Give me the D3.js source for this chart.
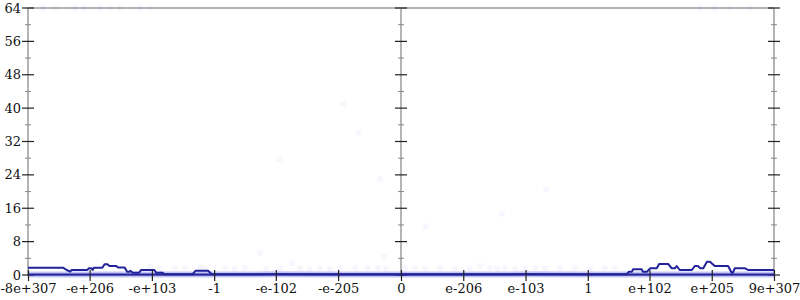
<!DOCTYPE html>
<html>
<head>
<meta charset="utf-8">
<title>symlog histogram</title>
<script src="https://cdn.jsdelivr.net/npm/d3@7"></script>
<style>
body { margin: 0; background: #fff; }
svg text { font-family: "DejaVu Serif", serif; font-size: 13px; fill: #111; }
</style>
</head>
<body>
<script>
// x tick values and their labels
var xTickVals = [-8e307, -1e206, -1e103, -1, -1e-102, -1e-205, 0, 1e-206, 1e-103, 1, 1e102, 1e205, 9e307];
var xTickLabels = ["-8e+307", "-e+206", "-e+103", "-1", "-e-102", "-e-205", "0", "e-206", "e-103", "1", "e+102", "e+205", "9e+307"];
var yTicks = [0, 8, 16, 24, 32, 40, 48, 56, 64];
var yMinor = [4, 12, 20, 28, 36, 44, 52, 60];

// main jagged series
var upperX = [-8e307, -1e250, -1e244, -1e238, -1e236, -1e210, -1e207, -1e203, -1e201, -1e199, -1e185, -1e181, -1e177, -1e173,
  -1e162, -1e159, -1e148, -1e144, -1e140, -1e138, -1e135, -1e124, -1e121, -1e99, -1e96, -1e86, -1e82, -1e36, -1e31, -1e27,
  -1e10, -1e4, -1e-2, -1e-60, -1e-150, -1e-250, 0, 1e-250, 1e-150, 1e-60, 1e-2, 1e30, 1e64, 1e68, 1e73, 1e75, 1e89, 1e91, 1e98,
  1e103, 1e114, 1e118, 1e133, 1e139, 1e144, 1e147, 1e152, 1e172, 1e177, 1e182, 1e186, 1e191, 1e197, 1e202, 1e210, 1e232,
  1e238, 1e240, 1e243, 1e260, 1e265, 9e307];
var upperY = [1.75, 1.75, 1.2, 0.8, 1.2, 1.2, 1.6, 1.6, 1.2, 1.75, 1.75, 2.6, 2.6, 2.16,
  2.16, 1.8, 1.8, 0.8, 0.8, 1.0, 0.56, 0.56, 1.2, 1.2, 0.56, 0.56, 0.16, 0.16, 1.0, 1.0,
  1.0, 0.16, 0.16, 0.16, 0.16, 0.16, 0.16, 0.16, 0.16, 0.16, 0.16, 0.16, 0.16, 0.8, 0.8, 1.36, 1.36, 0.8, 0.8,
  1.6, 1.6, 2.64, 2.64, 1.6, 1.6, 2.16, 1.2, 1.2, 2.16, 2.16, 1.6, 1.6, 3.2, 3.2, 2.16, 2.16,
  0.56, 0.56, 1.6, 1.6, 1.2, 1.2];

// baseline series
var baseX = [-8e307, -1e200, -1e100, -1, -1e-100, -1e-200, 0, 1e-200, 1e-100, 1, 1e100, 1e200, 9e307];
var baseY = [0.1, 0.1, 0.1, 0.1, 0.15, 0.1, 0.1, 0.1, 0.15, 0.1, 0.1, 0.1, 0.1];

// faint scattered points
var dotX = [-1e106, -1e90, -1e65, -1e48, -1e23, -1e15, -1e-18, -1e-34, -1e-51, -1e-76, -1e-86, -1e-110, -1e-128, -1e-142,
  -1e-158, -1e-175, -1e-191, -1e-208, -1e-233, -1e-254, -1e-271, -1e-284, 1e-302, 1e-286, 1e-269, 1e-244, 1e-220, 1e-195,
  1e-178, 1e-162, 1e-150, 1e-137, 1e-120, 1e-104, 1e-87, 1e-71, 1e-46, 1e-21, 1e4, 1e28, 1e45,
  -1e-107, -1e-274, -1e-281, 1e-268, 1e-142, 1e-69, -1e-238, -1e-213,
  -1e283, -1e263, -1e230, -1e214, -1e189, -1e172, -1e156, -1e123, -1e106, 1e186, 1e210, 1e235, 1e268];
var dotY = [2, 1.5, 1.6, 1.6, 1.8, 1.5, 1.6, 1.5, 1.7, 5.3, 1.4, 1.6, 2.9, 1.6,
  1.5, 1.7, 1.4, 1.6, 1.6, 1.6, 1.7, 1.5, 1.6, 1.7, 1.5, 1.6, 1.5, 1.6,
  2.2, 1.7, 1.5, 1.6, 1.5, 1.6, 1.7, 1.5, 1.6, 1.6, 1.5, 1.6, 1.6,
  27.6, 23, 4.4, 11.6, 14.6, 20.5, 34, 41,
  64, 64, 64, 64, 64, 64, 64, 64, 64, 64, 64, 64, 64];

var width = 800, height = 300;
var padding = {left: 28, right: 26, top: 8, bottom: 25};

// signed log10 distance from the smallest double
function tf(v) {
  if (v === 0) return 0;
  return Math.sign(v) * (Math.log10(Math.abs(v)) + 309);
}

var xLin = d3.scaleLinear()
  .domain([tf(-8e307), tf(9e307)])
  .range([padding.left, width - padding.right]);
var yscale = d3.scaleLinear()
  .domain([0, 64])
  .range([height - padding.bottom, padding.top]);
var x = function(v) { return xLin(tf(v)); };

var svg = d3.select("body").append("svg")
  .attr("width", width)
  .attr("height", height);

var x0 = x(0), xl = xLin.range()[0], xr = xLin.range()[1];
var yb = yscale(0), yt = yscale(64);

// frame lines
var frame = svg.append("g").attr("stroke", "#b4b4b4").attr("stroke-width", 2);
frame.append("line").attr("x1", xl).attr("x2", xr).attr("y1", yt).attr("y2", yt);
[xl, x0, xr].forEach(function(px) {
  frame.append("line").attr("x1", px).attr("x2", px).attr("y1", yt).attr("y2", yb + 1);
});
frame.append("line").attr("x1", xl).attr("x2", xr).attr("y1", yb).attr("y2", yb);

// y ticks on three vertical axes
[xl, x0, xr].forEach(function(px, k) {
  var g = svg.append("g");
  g.selectAll(".minor").data(yMinor).enter().append("line")
    .attr("x1", px - 3).attr("x2", px + 3)
    .attr("y1", function(d) { return yscale(d); })
    .attr("y2", function(d) { return yscale(d); })
    .attr("stroke", "#888").attr("stroke-width", 1);
  g.selectAll(".major").data(yTicks).enter().append("line")
    .attr("x1", px - 6).attr("x2", px + 6)
    .attr("y1", function(d) { return yscale(d); })
    .attr("y2", function(d) { return yscale(d); })
    .attr("stroke", "#222").attr("stroke-width", 1.2);
  if (k === 0) {
    g.selectAll("text").data(yTicks).enter().append("text")
      .attr("x", px - 7)
      .attr("y", function(d) { return yscale(d); })
      .attr("dy", "0.35em")
      .attr("text-anchor", "end")
      .text(function(d) { return d; });
  }
});

// faint points
svg.append("g").selectAll("circle")
  .data(dotX.map(function(d, i) { return [d, dotY[i]]; }))
  .enter().append("circle")
  .attr("cx", function(d) { return x(d[0]); })
  .attr("cy", function(d) { return yscale(d[1]); })
  .attr("r", 3)
  .attr("fill", "rgba(110,110,230,0.06)");

var line = d3.line()
  .x(function(d) { return x(d[0]); })
  .y(function(d) { return yscale(d[1]); });

var basePts = baseX.map(function(d, i) { return [d, baseY[i]]; });
svg.append("path").datum(basePts)
  .attr("d", line).attr("fill", "none")
  .attr("stroke", "rgba(90,90,225,0.35)").attr("stroke-width", 6);
svg.append("path").datum(basePts)
  .attr("d", line).attr("fill", "none")
  .attr("stroke", "#2424a0").attr("stroke-width", 2);

svg.append("path").datum(upperX.map(function(d, i) { return [d, upperY[i]]; }))
  .attr("d", line).attr("fill", "none")
  .attr("stroke", "#22229a").attr("stroke-width", 2)
  .attr("stroke-linejoin", "round");

// x axis ticks and labels
var xAxis = d3.axisBottom(xLin)
  .tickValues(xTickVals.map(tf))
  .tickSize(6)
  .tickFormat(function(d, i) { return xTickLabels[i]; });
var gx = svg.append("g")
  .attr("transform", "translate(0," + yb + ")")
  .call(xAxis);
gx.select(".domain").remove();
gx.selectAll(".tick line").attr("y1", -5).attr("y2", 6).attr("stroke", "#222").attr("stroke-width", 1.2);
gx.selectAll(".tick text").attr("y", 9).attr("dy", "0.71em")
  .style("font-family", "'DejaVu Serif', serif").style("font-size", "13px").attr("fill", "#111");
</script>
</body>
</html>
